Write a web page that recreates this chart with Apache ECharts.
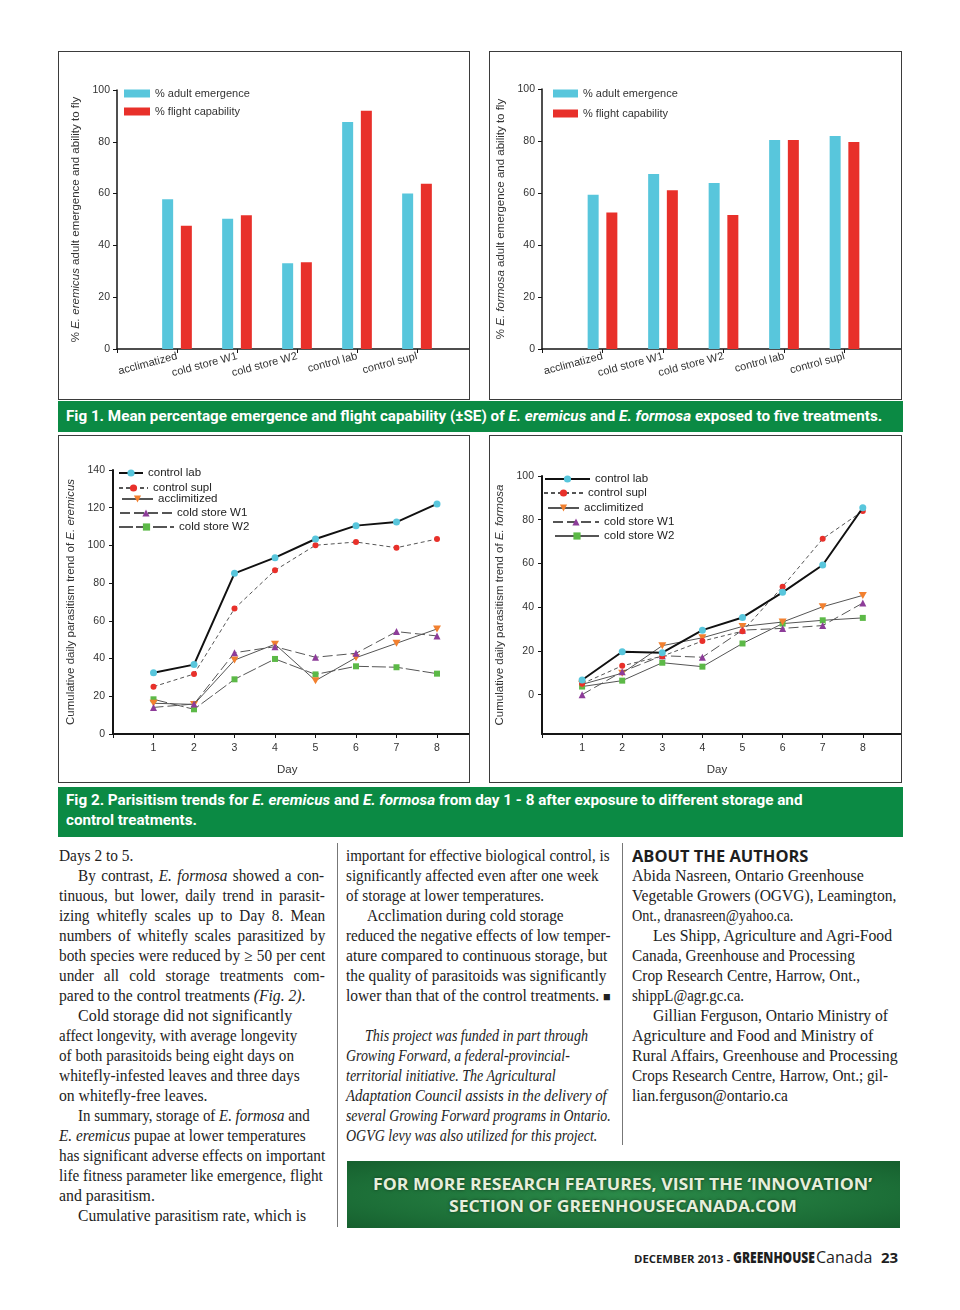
<!DOCTYPE html>
<html><head><meta charset="utf-8">
<script src="https://cdn.jsdelivr.net/npm/echarts@6.0.0/dist/echarts.min.js"></script>
<style>
html,body{margin:0;padding:0;background:#fff;}
body{width:960px;height:1310px;position:relative;overflow:hidden;}
.box{position:absolute;border:1.5px solid #3b3b3b;box-sizing:border-box;overflow:hidden;background:#fff;}
.box .chart{position:absolute;left:-1.5px;top:-1.5px;}
.band{position:absolute;background:#0b8a44;}
.t{position:absolute;white-space:nowrap;transform-origin:0 0;}
.cap{color:#fff;font-family:Roboto,'Liberation Sans',sans-serif;font-weight:700;font-size:14px;line-height:16px;}
.bt{font-family:'Liberation Serif','DejaVu Serif',serif;font-size:16px;line-height:20px;color:#222;}
.hd{font-family:'Open Sans','Noto Sans',sans-serif;font-weight:700;font-size:16px;line-height:20px;color:#1e1e1e;}
.sep{position:absolute;width:1px;background:#777;}
.banner{position:absolute;left:347px;top:1161px;width:553px;height:67px;background:radial-gradient(ellipse at 50% 50%, #2b8a49 0%, #1c6e37 70%, #165f2e 100%);}
.bn{color:#e6eedb;font-family:'Open Sans','Noto Sans',sans-serif;font-weight:700;font-size:16px;line-height:20px;text-shadow:0 0 3px rgba(0,0,0,0.55);}
.ft{font-family:'Open Sans','Noto Sans',sans-serif;line-height:1;color:#1e1e1e;}
</style></head><body>

<div class="box" style="left:58px;top:51px;width:412px;height:349px;"><div class="chart" id="c1" style="width:412px;height:349px;"></div></div>
<div class="box" style="left:489px;top:51px;width:413px;height:349px;"><div class="chart" id="c2" style="width:413px;height:349px;"></div></div>
<div class="band" style="left:58px;top:401px;width:845px;height:31px;"></div>
<span class="t cap" data-w="816" style="left:66px;top:408px;">Fig 1. Mean percentage emergence and flight capability (±SE) of <i>E. eremicus</i> and <i>E. formosa</i> exposed to five treatments.</span>

<div class="box" style="left:58px;top:435px;width:412px;height:348px;"><div class="chart" id="c3" style="width:412px;height:348px;"></div></div>
<div class="box" style="left:489px;top:435px;width:413px;height:348px;"><div class="chart" id="c4" style="width:413px;height:348px;"></div></div>
<div class="band" style="left:58px;top:787px;width:845px;height:50px;"></div>
<span class="t cap" data-w="737" style="left:66px;top:792px;">Fig 2. Parisitism trends for <i>E. eremicus</i> and <i>E. formosa</i> from day 1 - 8 after exposure to different storage and</span>
<span class="t cap" data-w="131" style="left:66px;top:812px;">control treatments.</span>

<div class="sep" style="left:337px;top:843px;height:384px;"></div>
<div class="sep" style="left:622px;top:843px;height:302px;"></div>

<div id="txt"></div>

<div class="banner"></div>
<span class="t bn" data-w="499" style="left:373px;top:1174px;">FOR MORE RESEARCH FEATURES, VISIT THE ‘INNOVATION’</span>
<span class="t bn" data-w="348" style="left:449px;top:1196px;">SECTION OF GREENHOUSECANADA.COM</span>

<span class="t ft" data-w="96" style="left:634px;top:1253px;font-size:11px;font-weight:700;">DECEMBER 2013 -</span>
<span class="t ft" data-w="82" style="left:733px;top:1249.5px;font-size:15px;font-weight:800;">GREENHOUSE</span>
<span class="t ft" data-w="56" style="left:816px;top:1249px;font-size:16px;font-weight:400;">Canada</span>
<span class="t ft" data-w="17" style="left:881px;top:1249.5px;font-size:15px;font-weight:700;">23</span>

<script>
// ---------------- data ----------------
const treatments = ['acclimatized', 'cold store W1', 'cold store W2', 'control lab', 'control supl'];
const barLegend = ['% adult emergence', '% flight capability'];
const eremicusEmergence = [57.8, 50.3, 33.1, 87.6, 60.0];
const eremicusFlight    = [47.6, 51.6, 33.5, 92.0, 63.8];
const formosaEmergence  = [59.3, 67.3, 63.8, 80.4, 81.9];
const formosaFlight     = [52.5, 61.1, 51.5, 80.4, 79.6];

const days = [1, 2, 3, 4, 5, 6, 7, 8];
const trendNames = ['control lab', 'control supl', 'acclimitized', 'cold store W1', 'cold store W2'];
const eremicusControlLab  = [32.5, 36.8, 85.2, 93.5, 103.4, 110.5, 112.4, 122.0];
const eremicusControlSupl = [25.1, 31.8, 66.5, 86.8, 100.1, 101.8, 98.8, 103.4];
const eremicusAcclim      = [16.3, 15.7, 39.2, 47.6, 28.3, 40.5, 48.1, 55.7];
const eremicusW1          = [14.1, 15.9, 43.1, 46.3, 40.7, 42.8, 54.3, 52.0];
const eremicusW2          = [18.4, 13.1, 29.0, 39.8, 31.6, 35.9, 35.4, 32.0];
const formosaControlLab   = [6.7, 19.6, 19.2, 29.5, 35.3, 46.8, 59.3, 85.5];
const formosaControlSupl  = [5.0, 13.2, 17.6, 24.5, 29.0, 49.4, 71.3, 84.0];
const formosaAcclim       = [4.7, 9.8, 22.4, 26.0, 31.2, 33.2, 40.2, 45.4];
const formosaW1           = [0.0, 10.5, 17.8, 17.1, 29.5, 30.3, 31.6, 41.9];
const formosaW2           = [3.7, 6.4, 14.6, 12.8, 23.4, 32.5, 34.0, 35.1];
const eremicusTrendTicks  = [0, 20, 40, 60, 80, 100, 120, 140];
const formosaTrendTicks   = [0, 20, 40, 60, 80, 100];

// ---------------- styles ----------------
const FONT = "'Liberation Sans', Arial, Helvetica, sans-serif";
const CYAN = '#58c6dc', RED = '#e8302a';
const AX = '#151515', LBL = '#333';

function barOption(c) {
  return {
    animation: false,
    textStyle: { fontFamily: FONT },
    grid: { left: c.left, top: c.top, height: c.height, width: c.unit * 6, outerBoundsMode: 'none' },
    legend: {
      orient: 'vertical', left: c.legLeft, top: c.legTop, itemWidth: c.legW, itemHeight: 8,
      itemGap: c.legGap, icon: 'rect', selectedMode: false, data: barLegend,
      textStyle: { fontSize: 11, color: LBL, fontFamily: FONT }
    },
    xAxis: {
      type: 'value', min: 0, max: 6, interval: 1,
      axisLine: { onZero: false, lineStyle: { color: AX, width: 1.5 } },
      axisTick: { show: true, length: 4, lineStyle: { color: AX, width: 1 } },
      splitLine: { show: false },
      axisLabel: { rotate: 15, fontSize: 11, color: LBL, margin: 7, showMinLabel: true, showMaxLabel: true,
        formatter: v => treatments[v - 1] || '' }
    },
    yAxis: {
      type: 'value', min: 0, max: 100, interval: 20,
      name: c.name, nameLocation: 'middle', nameGap: c.nameGap, nameRotate: 90,
      nameTextStyle: { fontSize: 11.5, color: LBL, fontFamily: FONT,
        rich: { i: { fontStyle: 'italic', fontSize: 11.5, color: LBL, fontFamily: FONT } } },
      axisLine: { show: true, lineStyle: { color: AX, width: 1.5 } },
      axisTick: { show: true, length: 4, lineStyle: { color: AX, width: 1 } },
      splitLine: { show: false },
      axisLabel: { fontSize: 10.5, color: LBL, margin: 7 }
    },
    series: [
      { name: barLegend[0], type: 'bar', barWidth: 11, barGap: '70%', itemStyle: { color: CYAN },
        data: c.em.map((v, i) => [i + 1, v]) },
      { name: barLegend[1], type: 'bar', barWidth: 11, barGap: '70%', itemStyle: { color: RED },
        data: c.fl.map((v, i) => [i + 1, v]) }
    ]
  };
}

const DOWN_TRI = 'path://M0,0 L10,0 L5,8.5 Z';
function lineSeries(data, dash) {
  const st = [
    { symbol: 'circle', size: 7, color: CYAN, line: { color: '#111', width: 2, type: 'solid' }, z: 10 },
    { symbol: 'circle', size: 6, color: RED, line: { color: '#555', width: 1, type: [4, 3] }, z: 9 },
    { symbol: DOWN_TRI, size: [8, 7], color: '#f2802f', line: { color: '#555', width: 1, type: 'solid' }, z: 6 },
    { symbol: 'triangle', size: 7, color: '#8d3c99', line: { color: '#555', width: 1, type: [10, 4] }, z: 7 },
    { symbol: 'rect', size: 6, color: '#5cb947', line: { color: '#555', width: 1, type: dash }, z: 5 }
  ];
  return trendNames.map((n, i) => ({
    name: n, type: 'line', z: st[i].z,
    data: data[i].map((v, j) => [days[j], v]),
    symbol: st[i].symbol, symbolSize: st[i].size, showSymbol: true,
    itemStyle: { color: st[i].color },
    lineStyle: st[i].line
  }));
}

function lineOption(c) {
  return {
    animation: false,
    textStyle: { fontFamily: FONT },
    grid: { left: c.left, top: c.top, height: c.height, width: c.unit * 9, outerBoundsMode: 'none' },
    legend: c.legs.map((L, i) => ({
      data: [trendNames[i]], left: L[0], top: L[1], itemWidth: L[2], itemHeight: 9,
      selectedMode: false, textStyle: { fontSize: 11.5, color: '#222', fontFamily: FONT }
    })),
    xAxis: {
      type: 'value', min: 0, max: 9, interval: 1,
      name: 'Day', nameLocation: 'middle', nameGap: 30,
      nameTextStyle: { fontSize: 11.5, color: LBL, padding: [0, c.dayShift, 0, 0] },
      axisLine: { onZero: false, lineStyle: { color: AX, width: 2 } },
      axisTick: { show: true, length: 4, lineStyle: { color: AX, width: 1 } },
      splitLine: { show: false },
      axisLabel: { fontSize: 10.5, color: LBL, margin: 9, formatter: v => days.includes(v) ? String(v) : '' }
    },
    yAxis: Object.assign({
      type: 'value',
      name: c.name, nameLocation: 'middle', nameGap: c.nameGap, nameRotate: 90,
      nameTextStyle: { fontSize: 11.5, color: LBL, fontFamily: FONT,
        rich: { i: { fontStyle: 'italic', fontSize: 11.5, color: LBL, fontFamily: FONT } } },
      axisLine: { show: true, lineStyle: { color: AX, width: 2 } },
      splitLine: { show: false }
    }, c.y),
    series: lineSeries(c.data, c.w2dash)
  };
}

const ch1 = echarts.init(document.getElementById('c1'));
ch1.setOption(barOption({ left: 59, top: 39, height: 259, unit: 60, legLeft: 61, legTop: 32, legW: 26, legGap: 7,
  name: '% {i|E. eremicus} adult emergence and ability to fly', nameGap: 26,
  em: eremicusEmergence, fl: eremicusFlight }));

const ch2 = echarts.init(document.getElementById('c2'));
ch2.setOption(barOption({ left: 53, top: 38, height: 260, unit: 60.5, legLeft: 59, legTop: 32, legW: 25, legGap: 9,
  name: '% {i|E. formosa} adult emergence and ability to fly', nameGap: 22,
  em: formosaEmergence, fl: formosaFlight }));

const ch3 = echarts.init(document.getElementById('c3'));
ch3.setOption(lineOption({ left: 55, top: 35, height: 264, unit: 40.5, dayShift: 16, nameGap: 36,
  name: 'Cumulative daily parasitism trend of {i|E. eremicus}',
  legs: [[55, 27, 24], [55, 42, 29], [58, 53, 31], [56, 67, 52], [55, 81, 55]],
  y: { min: 0, max: 140, interval: 20,
       axisTick: { show: true, length: 4, lineStyle: { color: AX, width: 1 } },
       axisLabel: { fontSize: 10.5, color: LBL, margin: 8 } },
  data: [eremicusControlLab, eremicusControlSupl, eremicusAcclim, eremicusW1, eremicusW2],
  w2dash: [14, 3] }));

const ch4 = echarts.init(document.getElementById('c4'));
ch4.setOption(lineOption({ left: 53, top: 41, height: 258, unit: 40.1, dayShift: 11, nameGap: 29,
  name: 'Cumulative daily parasitism trend of {i|E. formosa}',
  legs: [[50, 33, 45], [49, 47, 39], [53, 62, 31], [58, 76, 46], [60, 90, 44]],
  y: { min: -18, max: 100,
       axisTick: { show: true, length: 4, customValues: formosaTrendTicks, lineStyle: { color: AX, width: 1 } },
       axisLabel: { fontSize: 10.5, color: LBL, margin: 8, customValues: formosaTrendTicks } },
  data: [formosaControlLab, formosaControlSupl, formosaAcclim, formosaW1, formosaW2],
  w2dash: 'solid' }));

// ---------------- body text ----------------
const colX = [59, 346, 632];
// [col, line, indent(px), width, html, justify, cls]
const lines = [
  [0, 0, 0, 74, 'Days 2 to 5.'],
  [0, 1, 19, 246, 'By contrast, <i>E. formosa</i> showed a con-', 1],
  [0, 2, 0, 266, 'tinuous, but lower, daily trend in parasit-', 1],
  [0, 3, 0, 266, 'izing whitefly scales up to Day 8. Mean', 1],
  [0, 4, 0, 266, 'numbers of whitefly scales parasitized by', 1],
  [0, 5, 0, 266, 'both species were reduced by ≥ 50 per cent', 1],
  [0, 6, 0, 266, 'under all cold storage treatments com-', 1],
  [0, 7, 0, 246, 'pared to the control treatments <i>(Fig. 2)</i>.'],
  [0, 8, 19, 214, 'Cold storage did not significantly'],
  [0, 9, 0, 238, 'affect longevity, with average longevity'],
  [0, 10, 0, 235, 'of both parasitoids being eight days on'],
  [0, 11, 0, 241, 'whitefly-infested leaves and three days'],
  [0, 12, 0, 148, 'on whitefly-free leaves.'],
  [0, 13, 19, 232, 'In summary, storage of <i>E. formosa</i> and'],
  [0, 14, 0, 247, '<i>E. eremicus</i> pupae at lower temperatures'],
  [0, 15, 0, 266, 'has significant adverse effects on important'],
  [0, 16, 0, 264, 'life fitness parameter like emergence, flight'],
  [0, 17, 0, 96, 'and parasitism.'],
  [0, 18, 19, 228, 'Cumulative parasitism rate, which is'],
  [1, 0, 0, 264, 'important for effective biological control, is'],
  [1, 1, 0, 253, 'significantly affected even after one week'],
  [1, 2, 0, 198, 'of storage at lower temperatures.'],
  [1, 3, 21, 197, 'Acclimation during cold storage'],
  [1, 4, 0, 264, 'reduced the negative effects of low temper-'],
  [1, 5, 0, 261, 'ature compared to continuous storage, but'],
  [1, 6, 0, 261, 'the quality of parasitoids was significantly'],
  [1, 7, 0, 265, 'lower than that of the control treatments. <span style="font-size:13px;">&#9632;</span>'],
  [1, 9, 19, 223, '<i>This project was funded in part through</i>'],
  [1, 10, 0, 224, '<i>Growing Forward, a federal-provincial-</i>'],
  [1, 11, 0, 210, '<i>territorial initiative. The Agricultural</i>'],
  [1, 12, 0, 261, '<i>Adaptation Council assists in the delivery of</i>'],
  [1, 13, 0, 265, '<i>several Growing Forward programs in Ontario.</i>'],
  [1, 14, 0, 251, '<i>OGVG levy was also utilized for this project.</i>'],
  [2, 0, 0, 176, 'ABOUT THE AUTHORS', 0, 'hd'],
  [2, 1, 0, 232, 'Abida Nasreen, Ontario Greenhouse'],
  [2, 2, 0, 264, 'Vegetable Growers (OGVG), Leamington,'],
  [2, 3, 0, 161, 'Ont., dranasreen@yahoo.ca.'],
  [2, 4, 21, 239, 'Les Shipp, Agriculture and Agri-Food'],
  [2, 5, 0, 223, 'Canada, Greenhouse and Processing'],
  [2, 6, 0, 228, 'Crop Research Centre, Harrow, Ont.,'],
  [2, 7, 0, 112, 'shippL@agr.gc.ca.'],
  [2, 8, 21, 235, 'Gillian Ferguson, Ontario Ministry of'],
  [2, 9, 0, 241, 'Agriculture and Food and Ministry of'],
  [2, 10, 0, 266, 'Rural Affairs, Greenhouse and Processing'],
  [2, 11, 0, 256, 'Crops Research Centre, Harrow, Ont.; gil-'],
  [2, 12, 0, 156, 'lian.ferguson@ontario.ca']
];
const txt = document.getElementById('txt');
lines.forEach(L => {
  const s = document.createElement('span');
  s.className = 't ' + (L[6] || 'bt');
  s.style.left = (colX[L[0]] + L[2]) + 'px';
  s.style.top = (845.5 + 20 * L[1]) + 'px';
  s.dataset.w = L[3];
  if (L[5]) s.dataset.j = '1';
  s.innerHTML = L[4];
  txt.appendChild(s);
});

function fit() {
  const els = Array.from(document.querySelectorAll('.t[data-w]'));
  els.forEach(e => { e.style.transform = 'none'; e.style.wordSpacing = '0px'; });
  const ratios = els.filter(e => e.classList.contains('bt') && !e.dataset.j && +e.dataset.w > 150)
    .map(e => +e.dataset.w / e.offsetWidth).sort((a, b) => a - b);
  const s0 = ratios.length ? ratios[Math.floor(ratios.length / 2)] : 1;
  els.forEach(e => {
    const t = +e.dataset.w;
    if (e.dataset.j) {
      const n = (e.textContent.match(/ /g) || []).length || 1;
      const extra = (t / s0 - e.offsetWidth) / n;
      e.style.wordSpacing = extra + 'px';
      e.style.transform = 'scaleX(' + (t / e.offsetWidth) + ')';
    } else {
      e.style.transform = 'scaleX(' + (t / e.offsetWidth) + ')';
    }
  });
}
fit();
if (document.fonts && document.fonts.ready) document.fonts.ready.then(fit);
</script>
</body></html>
